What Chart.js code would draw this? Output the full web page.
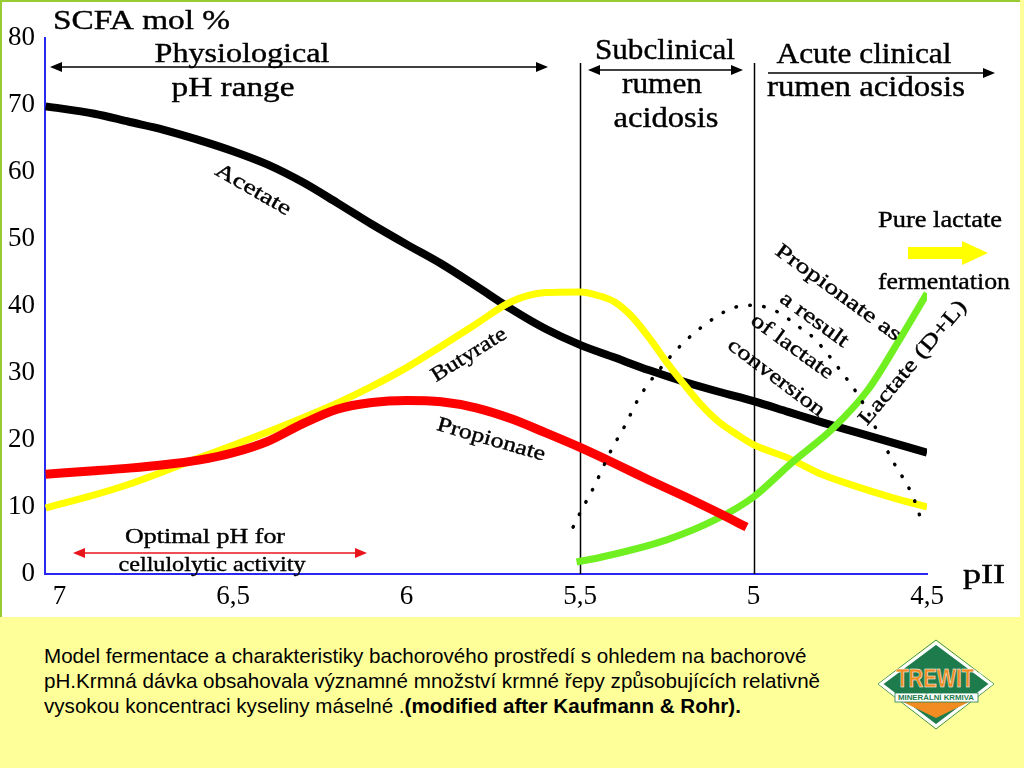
<!DOCTYPE html>
<html>
<head>
<meta charset="utf-8">
<script src="https://cdn.jsdelivr.net/npm/chart.js@4.4.0/dist/chart.umd.min.js"></script>
<style>
    body { margin: 0; width: 1024px; height: 768px; overflow: hidden; position: relative; background: #ffff99; }
    #panel { position: absolute; left: 0; top: 0; width: 1020px; height: 617px; background: #fff; }
    #panel canvas { position: absolute; left: 0; top: 0; }
    .borde { position: absolute; background: #9c3; }
    #texto { position: absolute; left: 44px; top: 643px; white-space: nowrap; font-family: "Liberation Sans", Arial, sans-serif; font-size: 20.6px; line-height: 25px; color: #000; }
    #logo { position: absolute; left: 876px; top: 638px; }
</style>
</head>
<body>
<div id="panel"><canvas id="myChart" width="1020" height="617"></canvas></div>
<div class="borde" style="left:0;top:0;width:1020px;height:2px"></div>
<div class="borde" style="left:0;top:0;width:2px;height:617px"></div>

<div id="texto">Model fermentace a charakteristiky bachorového prostředí s ohledem na bachorové<br>pH.Krmná dávka obsahovala významné množství krmné řepy způsobujících relativně<br>vysokou koncentraci kyseliny máselné .<b>(modified after Kaufmann &amp; Rohr).</b></div>

<svg id="logo" width="120" height="95" viewBox="0 0 120 95">
    <polygon points="2,46 60,2 118,46 60,91" fill="none" stroke="#3d8f5a" stroke-width="1"/>
    <polygon points="5,46 60,5 115,46 60,88" fill="#1e7b4c" stroke="#fff" stroke-width="3"/>
    <polygon points="27,64 93,64 60,80" fill="#f08c22"/>
    <rect x="19" y="55" width="83" height="9" fill="#fff" stroke="#1e7b4c" stroke-width="0.8"/>
    <text x="60" y="62" text-anchor="middle" font-family="Liberation Sans, Arial" font-weight="bold" font-size="7" fill="#1e7b4c" textLength="76" lengthAdjust="spacingAndGlyphs">MINERÁLNÍ KRMIVA</text>
    <text x="59" y="49" text-anchor="middle" font-family="Liberation Sans, Arial" font-weight="bold" font-size="25" fill="#f08c22" stroke="#fff" stroke-width="0.5" textLength="78" lengthAdjust="spacingAndGlyphs">TREWIT</text>
    <text x="103" y="38" font-family="Liberation Sans, Arial" font-size="6" fill="#fff">®</text>
</svg>

<script>
// Eje X (pH) y eje Y (SCFA mol %)
const ticksPH = [7, 6.5, 6, 5.5, 5, 4.5];
const etiquetasPH = ['7', '6,5', '6', '5,5', '5', '4,5'];
const ticksMol = [0, 10, 20, 30, 40, 50, 60, 70, 80];
const limitesZonas = [5.5, 5];

// Acetato
const phAcetato = [7.04, 6.9, 6.8, 6.7, 6.6, 6.5, 6.4, 6.3, 6.2, 6.1, 6.0, 5.9, 5.8, 5.7, 5.6, 5.5, 5.4, 5.3, 5.2, 5.1, 5.0, 4.9, 4.8, 4.7, 4.6, 4.5];
const acetato = [69.8, 68.7, 67.5, 66.3, 64.8, 63.1, 61.1, 58.5, 55.4, 52.2, 49.2, 46.3, 43.0, 39.6, 36.6, 34.2, 32.3, 30.4, 28.7, 27.2, 25.8, 24.2, 22.6, 21.1, 19.6, 18.1];

// Butirato
const phButirato = [7.04, 6.9, 6.8, 6.7, 6.6, 6.5, 6.4, 6.3, 6.2, 6.1, 6.0, 5.9, 5.8, 5.7, 5.6, 5.5, 5.45, 5.4, 5.35, 5.3, 5.25, 5.2, 5.15, 5.1, 5.05, 5.0, 4.9, 4.8, 4.7, 4.6, 4.5];
const butirato = [9.85, 11.8, 13.4, 15.3, 17.3, 19.2, 21.2, 23.3, 25.5, 28.0, 30.8, 34.0, 37.3, 40.6, 42.0, 42.1, 41.6, 40.6, 38.4, 35.2, 31.6, 28.3, 25.2, 22.7, 20.9, 19.3, 17.3, 14.8, 13.0, 11.4, 10.0];

// Propionato
const phPropionato = [7.04, 6.9, 6.8, 6.7, 6.6, 6.5, 6.4, 6.3, 6.2, 6.1, 6.0, 5.9, 5.8, 5.7, 5.6, 5.5, 5.4, 5.3, 5.2, 5.1, 5.02];
const propionato = [14.9, 15.4, 15.8, 16.3, 17.0, 18.1, 19.8, 22.4, 24.6, 25.6, 25.9, 25.7, 24.8, 23.2, 21.1, 18.9, 16.5, 14.0, 11.6, 9.1, 7.0];

// Lactato (D+L)
const phLactato = [5.51, 5.44, 5.25, 5.11, 5.0, 4.89, 4.77, 4.67, 4.58, 4.5];
const lactato = [1.8, 2.5, 5.1, 8.1, 11.5, 16.6, 21.8, 27.5, 34.9, 41.9];

// Propionato por conversion de lactato (punteada)
const phConversion = [5.52, 5.5, 5.46, 5.41, 5.37, 5.33, 5.26, 5.2, 5.13, 5.06, 5.0, 4.93, 4.87, 4.83, 4.75, 4.69, 4.64, 4.6, 4.54, 4.51];
const conversion = [7, 9.1, 13, 18.5, 22.2, 26.3, 31.2, 34.6, 37.6, 39.7, 40.1, 39.1, 36.9, 35.4, 30.4, 26, 21, 17, 11.5, 7];

function serie(ph, valores, color, ancho) {
    return {
        data: ph.map((p, i) => ({ x: p, y: valores[i] })),
        borderColor: color,
        borderWidth: ancho,
        pointRadius: 0,
        fill: false
    };
}

// texto, x, y, tamaño, ancho, rotacion, alineacion, base
const textos = [
    ['SCFA mol %', 53, 29, 27, 177, 0, 'left', 'alphabetic'],
    ['Physiological', 242, 62, 28, 175, 0, 'center', 'alphabetic'],
    ['pH range', 233, 96, 28, 123, 0, 'center', 'alphabetic'],
    ['Subclinical', 665, 59, 29, 140, 0, 'center', 'alphabetic'],
    ['rumen', 662, 93, 29, 80, 0, 'center', 'alphabetic'],
    ['acidosis', 666, 127, 29, 105, 0, 'center', 'alphabetic'],
    ['Acute clinical', 864, 63, 29, 175, 0, 'center', 'alphabetic'],
    ['rumen acidosis', 866, 96, 29, 198, 0, 'center', 'alphabetic'],
    ['Pure lactate', 878, 227, 24, 124, 0, 'left', 'alphabetic'],
    ['fermentation', 878, 289, 24, 132, 0, 'left', 'alphabetic'],
    ['Optimal pH for', 205, 543, 21, 160, 0, 'center', 'alphabetic'],
    ['cellulolytic activity', 212, 571, 21, 187, 0, 'center', 'alphabetic'],
    ['pII', 984, 583, 28, 42, 0, 'center', 'alphabetic'],
    ['Acetate', 253, 190, 21, 84, 30, 'center', 'middle'],
    ['Butyrate', 469, 355, 21, 85, -32, 'center', 'middle'],
    ['Propionate', 491, 440, 21, 112, 16, 'center', 'middle'],
    ['Propionate as', 838, 293, 21, 150, 36, 'center', 'middle'],
    ['a result', 814, 320, 21, 80, 36, 'center', 'middle'],
    ['of lactate', 792, 347, 21, 97, 36, 'center', 'middle'],
    ['conversion', 776, 378, 21, 116, 37, 'center', 'middle'],
    ['Lactate (D+L)', 913, 363, 21, 156, -50, 'center', 'middle']
];

// x1, x2, y, color, punta izquierda
const flechas = [
    [50, 548, 67, '#000', true],
    [588, 743, 70, '#000', true],
    [768, 995, 73, '#000', false],
    [73, 367, 553, '#e8141b', true]
];

function punta(c, x, y, dir) {
    c.beginPath();
    c.moveTo(x, y);
    c.lineTo(x - dir * 12, y - 5);
    c.lineTo(x - dir * 12, y + 5);
    c.closePath();
    c.fill();
}

const anotaciones = {
    id: 'anotaciones',
    beforeDatasetsDraw(chart) {
        const c = chart.ctx;
        const x = chart.scales.x;
        c.save();
        c.strokeStyle = '#000';
        c.lineWidth = 1.5;
        limitesZonas.forEach(v => {
            const px = Math.round(x.getPixelForValue(v)) + 0.5;
            c.beginPath();
            c.moveTo(px, 63);
            c.lineTo(px, chart.chartArea.bottom);
            c.stroke();
        });
        c.restore();
    },
    afterDatasetsDraw(chart) {
        const c = chart.ctx;
        c.save();
        flechas.forEach(([x1, x2, y, color, izq]) => {
            c.strokeStyle = color;
            c.fillStyle = color;
            c.lineWidth = 1.5;
            c.beginPath();
            c.moveTo(x1 + (izq ? 6 : 0), y);
            c.lineTo(x2 - 6, y);
            c.stroke();
            punta(c, x2, y, 1);
            if (izq) punta(c, x1, y, -1);
        });

        // flecha amarilla (pure lactate)
        c.fillStyle = '#ffff00';
        c.fillRect(908, 247, 56, 12);
        c.beginPath();
        c.moveTo(962, 241);
        c.lineTo(988, 253);
        c.lineTo(962, 265);
        c.closePath();
        c.fill();

        c.fillStyle = '#000';
        c.strokeStyle = '#000';
        textos.forEach(([t, x, y, size, ancho, rot, align, base]) => {
            c.save();
            c.font = size + 'px "Liberation Serif", "Times New Roman", serif';
            const medida = c.measureText(t).width;
            c.translate(x, y);
            c.rotate(rot * Math.PI / 180);
            c.scale(ancho / medida, 1);
            c.textAlign = align;
            c.textBaseline = base;
            c.lineWidth = 0.4;
            c.fillText(t, 0, 0);
            c.strokeText(t, 0, 0);
            c.restore();
        });
        c.restore();
    }
};

const ctx = document.getElementById('myChart');

const grafica = new Chart(ctx, {
    type: 'line',
    data: {
        datasets: [
            Object.assign(serie(phConversion, conversion, '#000', 3.5), {
                borderDash: [0.5, 13.5],
                borderCapStyle: 'round'
            }),
            serie(phPropionato, propionato, '#ff0000', 9),
            serie(phLactato, lactato, '#70f020', 7),
            serie(phButirato, butirato, '#ffff00', 7),
            serie(phAcetato, acetato, '#000000', 8)
        ]
    },
    options: {
        responsive: false,
        animation: false,
        layout: {
            padding: { top: 38, right: 93, left: 0, bottom: 0 }
        },
        elements: {
            line: { cubicInterpolationMode: 'monotone', borderJoinStyle: 'round' }
        },
        plugins: {
            legend: { display: false },
            tooltip: { enabled: false }
        },
        scales: {
            x: {
                type: 'linear',
                reverse: true,
                min: 4.5,
                max: 7.042,
                afterBuildTicks: s => { s.ticks = ticksPH.map(v => ({ value: v })); },
                afterFit: s => { s.height = 43; },
                grid: { display: false, drawTicks: false },
                border: { color: '#2828f0', width: 2 },
                ticks: {
                    autoSkip: false,
                    maxRotation: 0,
                    padding: 7,
                    color: '#000',
                    font: { family: '"Liberation Serif", serif', size: 27 },
                    callback: v => etiquetasPH[ticksPH.indexOf(v)]
                }
            },
            y: {
                min: 0,
                max: 80,
                afterBuildTicks: s => { s.ticks = ticksMol.map(v => ({ value: v })); },
                afterFit: s => { s.width = 45; },
                grid: { display: false, drawTicks: false },
                border: { color: '#2828f0', width: 2 },
                ticks: {
                    padding: 10,
                    color: '#000',
                    font: { family: '"Liberation Serif", serif', size: 27 }
                }
            }
        }
    },
    plugins: [anotaciones]
});
</script>
</body>
</html>
